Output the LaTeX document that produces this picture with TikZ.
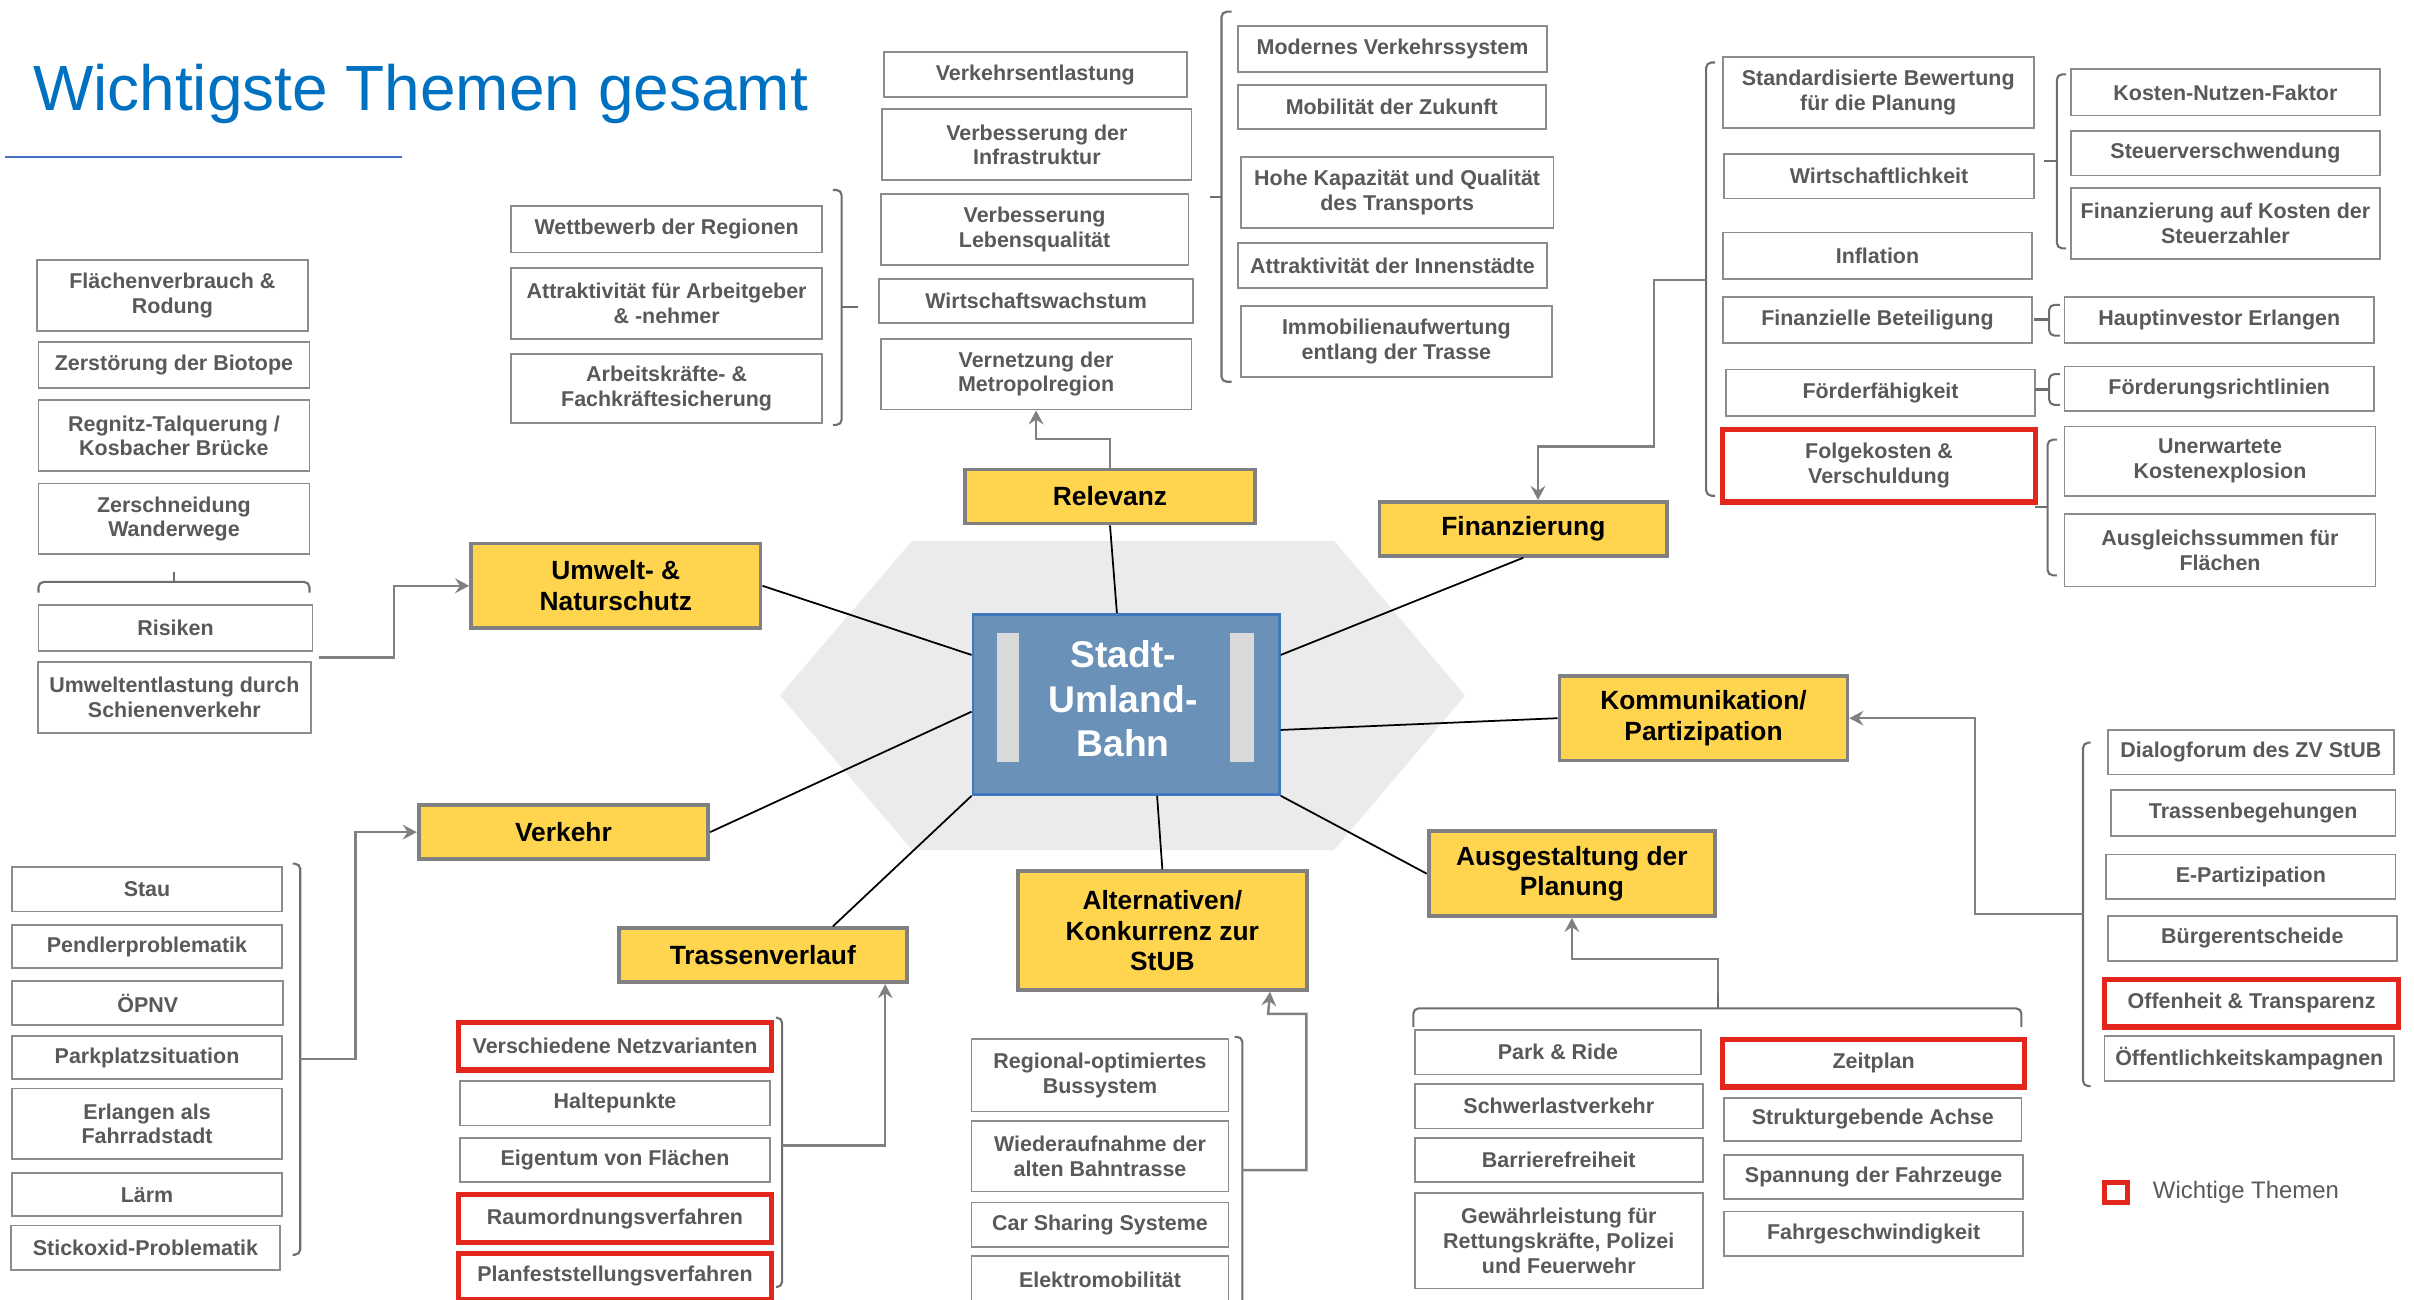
\documentclass[tikz,border=0pt]{standalone}
\usepackage{fontspec}
\setmainfont{Liberation Sans}
\usetikzlibrary{arrows.meta,calc}

\definecolor{boxgray}{HTML}{8C8C8C}
\definecolor{txtgray}{HTML}{595959}
\definecolor{hired}{HTML}{E3261C}
\definecolor{yfill}{HTML}{FFD54F}
\definecolor{ygray}{HTML}{808080}
\definecolor{conngray}{HTML}{808080}
\definecolor{brkgray}{HTML}{6E6E6E}
\definecolor{hexgray}{HTML}{EBEBEB}
\definecolor{ctrfill}{HTML}{6A92B8}
\definecolor{ctrdraw}{HTML}{3F78BF}
\definecolor{barfill}{HTML}{D9D9D9}
\definecolor{titleblue}{HTML}{0070C0}
\definecolor{lineblue}{HTML}{4472C4}

\newcommand\unitlen{0.015395cm}
% box from its two corners: style, name, x1, y1, x2, y2, text
\newcommand\mkbox[7]{\node[#1,
  minimum width={(#5-#3)*\unitlen}, minimum height={(#6-#4)*\unitlen}]
  (#2) at ({(#3+#5)/2},{(#4+#6)/2}) {#7};}

\tikzset{
  wbox/.style={draw=boxgray, line width=0.5pt, fill=white, text=txtgray,
    font=\bfseries\fontsize{6.1}{7}\selectfont, align=center, inner sep=0pt},
  rbox/.style={wbox, draw=hired, line width=1.5pt},
  ybox/.style={draw=ygray, line width=1.1pt, fill=yfill, text=black,
    font=\bfseries\fontsize{7.5}{8.7}\selectfont, align=center, inner sep=0pt},
  spoke/.style={black, line width=0.5pt},
  conn/.style={draw=conngray, line width=0.7pt},
  arr/.style={conn, -{Stealth[length=4pt,width=4.2pt,inset=1.4pt]}},
  brk/.style={draw=brkgray, line width=0.6pt, rounded corners=1.5pt},
}

\begin{document}
\begin{tikzpicture}[x=\unitlen, y=-\unitlen]
\path[use as bounding box] (0,0) rectangle (1568,844);
\clip (0,0) rectangle (1568,844);

% title
\node[anchor=base west, inner sep=0pt, text=titleblue,
  font=\fontsize{18.2}{20}\selectfont] (title) at (21,72) {Wichtigste Themen gesamt};
\draw[lineblue, line width=0.6pt] (3.5,102) -- (261,102);

% central hexagon
\fill[hexgray] (592.4,351.3) -- (866.6,351.3) -- (951.6,451.7) -- (866.6,552)
  -- (592.4,552) -- (506.6,451.7) -- cycle;

% central node
\mkbox{fill=ctrfill, draw=ctrdraw, line width=0.8pt, inner sep=0pt}{ctr}{632}{399}{831}{516}{}
\fill[barfill] (647.5,411) rectangle (662,495);
\fill[barfill] (799,411) rectangle (814.5,495);
\node[text=white, align=center, inner sep=0pt, font=\bfseries\fontsize{10.6}{12.7}\selectfont]
  (ctrlbl) at (729.5,454) {Stadt-\\Umland-\\Bahn};

% main topics
\mkbox{ybox}{uw}{306}{353}{494}{408}{Umwelt- \&\\Naturschutz}
\mkbox{ybox}{rel}{627}{305}{815}{340}{Relevanz}
\mkbox{ybox}{fin}{896}{326}{1083}{361}{Finanzierung}
\mkbox{ybox}{km}{1013}{439}{1200}{494}{Kommunikation/\\Partizipation}
\mkbox{ybox}{vk}{272}{523}{460}{558}{Verkehr}
\mkbox{ybox}{tv}{402}{603}{589}{638}{Trassenverlauf}
\mkbox{ybox}{alt}{661}{566}{849}{643}{Alternativen/\\Konkurrenz zur\\StUB}
\mkbox{ybox}{ag}{928}{540}{1114}{595}{Ausgestaltung der\\Planung}

% spokes from the centre
\draw[spoke] (uw.east) -- ($(ctr.north west)!0.23!(ctr.south west)$);
\draw[spoke] (rel.south) -- ($(ctr.north west)!0.47!(ctr.north east)$);
\draw[spoke] (fin.south) -- ($(ctr.north east)!0.23!(ctr.south east)$);
\draw[spoke] ($(ctr.north east)!0.64!(ctr.south east)$) -- (km.west);
\draw[spoke] (vk.east) -- ($(ctr.north west)!0.54!(ctr.south west)$);
\draw[spoke] ($(tv.north west)!0.74!(tv.north east)$) -- (ctr.south west);
\draw[spoke] ($(ctr.south west)!0.6!(ctr.south east)$) -- (alt.north);
\draw[spoke] (ctr.south east) -- (ag.west);

% Umwelt- & Naturschutz
\mkbox{wbox}{u1}{24}{169}{200}{215}{Flächenverbrauch \&\\Rodung}
\mkbox{wbox}{u2}{25}{222}{201}{252}{Zerstörung der Biotope}
\mkbox{wbox}{u3}{25}{260}{201}{306}{Regnitz-Talquerung /\\Kosbacher Brücke}
\mkbox{wbox}{u4}{25}{314}{201}{360}{Zerschneidung\\Wanderwege}
\mkbox{wbox}{u5}{25}{393}{203}{423}{Risiken}
\mkbox{wbox}{u6}{24.5}{430}{202}{476}{Umweltentlastung durch\\Schienenverkehr}
\draw[brk] (25,385) |- (201,378) -- (201,385);
\draw[brk] (113,378) -- (113,371.5);
\coordinate (uwsrc) at (207,427);
\draw[arr] (uwsrc) -| (256,380.5) -- (uw.west);

% Relevanz
\mkbox{wbox}{w1}{332}{134}{534}{164}{Wettbewerb der Regionen}
\mkbox{wbox}{w2}{332}{174}{534}{220}{Attraktivität für Arbeitgeber\\\& -nehmer}
\mkbox{wbox}{w3}{332}{230}{534}{275}{Arbeitskräfte- \&\\Fachkräftesicherung}
\draw[brk] (541,123.4) -| (546.7,276) -- (541,276);
\draw[brk] (546.7,199.2) -- (557,199.2);

\mkbox{wbox}{m1}{574}{34}{771}{63}{Verkehrsentlastung}
\mkbox{wbox}{m2}{573}{71}{774}{117}{Verbesserung der\\Infrastruktur}
\mkbox{wbox}{m3}{572}{126}{772}{172}{Verbesserung\\Lebensqualität}
\mkbox{wbox}{m4}{571}{181}{775}{210}{Wirtschaftswachstum}
\mkbox{wbox}{m5}{572}{220}{774}{266}{Vernetzung der\\Metropolregion}
\draw[arr] (rel.north) |- (673,285) -- (m5.south);

\mkbox{wbox}{r1}{804}{17}{1005}{47}{Modernes Verkehrssystem}
\mkbox{wbox}{r2}{804}{55}{1004}{84}{Mobilität der Zukunft}
\mkbox{wbox}{r3}{806}{102}{1009}{148}{Hohe Kapazität und Qualität\\des Transports}
\mkbox{wbox}{r4}{804}{158}{1005}{187}{Attraktivität der Innenstädte}
\mkbox{wbox}{r5}{806}{199}{1008}{245}{Immobilienaufwertung\\entlang der Trasse}
\draw[brk] (800,7.6) -| (793.4,248) -- (800,248);
\draw[brk] (793.4,127.8) -- (785.8,127.8);

% Finanzierung
\mkbox{wbox}{f1}{1119}{37}{1321}{83}{Standardisierte Bewertung\\für die Planung}
\mkbox{wbox}{f2}{1120}{100}{1321}{129}{Wirtschaftlichkeit}
\mkbox{wbox}{f3}{1119}{151}{1320}{181}{Inflation}
\mkbox{wbox}{f4}{1119}{193}{1320}{223}{Finanzielle Beteiligung}
\mkbox{wbox}{f5}{1121}{240}{1322}{270}{Förderfähigkeit}
\mkbox{rbox}{f6}{1119}{279}{1322}{326}{Folgekosten \&\\Verschuldung}
\mkbox{wbox}{g1}{1345}{45}{1546}{75}{Kosten-Nutzen-Faktor}
\mkbox{wbox}{g2}{1345}{85}{1546}{114}{Steuerverschwendung}
\mkbox{wbox}{g3}{1345}{122}{1546}{168}{Finanzierung auf Kosten der\\Steuerzahler}
\mkbox{wbox}{g4}{1341}{193}{1542}{223}{Hauptinvestor Erlangen}
\mkbox{wbox}{g5}{1341}{238}{1542}{267}{Förderungsrichtlinien}
\mkbox{wbox}{g6}{1341}{277}{1543}{322}{Unerwartete\\Kostenexplosion}
\mkbox{wbox}{g7}{1341}{334}{1543}{381}{Ausgleichssummen für\\Flächen}
\draw[brk] (1114,40.6) -| (1108.2,322) -- (1114,322);
\draw[brk] (1342,48.3) -| (1336,161.3) -- (1342,161.3);
\draw[brk] (1336,104.8) -- (1327.7,104.8);
\draw[brk] (1338,198) -| (1331,218) -- (1338,218);
\draw[brk] (1331,207.5) -- (1321,207.5);
\draw[brk] (1338,243) -| (1331,263) -- (1338,263);
\draw[brk] (1331,253) -- (1322,253);
\draw[brk] (1336,285.6) -| (1330,373.7) -- (1336,373.7);
\draw[brk] (1330,329.5) -- (1322,329.5);
\coordinate (finsrc) at (1108.2,182);
\draw[arr] (finsrc) -| (1074.4,290) -| ($(fin.north)+(9.5,0)$);

% Kommunikation / Partizipation
\mkbox{wbox}{k1}{1369}{474}{1555}{503}{Dialogforum des ZV StUB}
\mkbox{wbox}{k2}{1371}{513}{1556}{543}{Trassenbegehungen}
\mkbox{wbox}{k3}{1368}{555}{1556}{584}{E-Partizipation}
\mkbox{wbox}{k4}{1369}{595}{1557}{624}{Bürgerentscheide}
\mkbox{rbox}{k5}{1367}{636}{1558}{667}{Offenheit \& Transparenz}
\mkbox{wbox}{k6}{1367}{673}{1555}{702}{Öffentlichkeitskampagnen}
\draw[brk] (1358,482.4) -| (1353,705.5) -- (1358,705.5);
\coordinate (kmsrc) at (1353,593.7);
\draw[arr] (kmsrc) -| (1283,466.5) -- (km.east);

% Ausgestaltung der Planung
\mkbox{wbox}{a1}{919}{669}{1105}{698}{Park \& Ride}
\mkbox{wbox}{a2}{919}{704}{1106}{733}{Schwerlastverkehr}
\mkbox{wbox}{a3}{919}{739}{1106}{768}{Barrierefreiheit}
\mkbox{wbox}{a4}{919}{775}{1106}{837}{Gewährleistung für\\Rettungskräfte, Polizei\\und Feuerwehr}
\mkbox{rbox}{a5}{1119}{675}{1315}{706}{Zeitplan}
\mkbox{wbox}{a6}{1120}{713}{1313}{741}{Strukturgebende Achse}
\mkbox{wbox}{a7}{1120}{750}{1314}{779}{Spannung der Fahrzeuge}
\mkbox{wbox}{a8}{1120}{787}{1314}{816}{Fahrgeschwindigkeit}
\draw[brk] (918,667) |- (1313,655) -- (1313,667);
\draw[brk] (1116,655) -- (1116,645);
\coordinate (agsrc) at (1116,645);
\draw[arr] (agsrc) |- (1021,623) -- (ag.south);

% Alternativen / Konkurrenz
\mkbox{wbox}{b1}{631}{675}{798}{722}{Regional-optimiertes\\Bussystem}
\mkbox{wbox}{b2}{631}{728}{798}{774}{Wiederaufnahme der\\alten Bahntrasse}
\mkbox{wbox}{b3}{631}{781}{798}{810}{Car Sharing Systeme}
\mkbox{wbox}{b4}{631}{816}{798}{847}{Elektromobilität}
\draw[brk] (802,673.5) -| (807,870);
\coordinate (altsrc) at (807,760);
\draw[arr] (altsrc) -- (848.5,760) |- (823.7,658.6) -- ($(alt.south east)+(-25.3,0)$);

% Trassenverlauf
\mkbox{rbox}{t1}{298}{664}{501}{695}{Verschiedene Netzvarianten}
\mkbox{wbox}{t2}{299}{702}{500}{731}{Haltepunkte}
\mkbox{wbox}{t3}{299}{739}{500}{768}{Eigentum von Flächen}
\mkbox{rbox}{t4}{298}{776}{501}{807}{Raumordnungsverfahren}
\mkbox{rbox}{t5}{298}{814}{501}{844}{Planfeststellungsverfahren}
\draw[brk] (504,661) -| (508,836) -- (504,836);
\coordinate (tvsrc) at (508,744);
\coordinate (tvx) at (575,744);
\draw[arr] (tvsrc) -- (tvx) -- (tvx |- tv.south);

% Verkehr
\mkbox{wbox}{v1}{8}{563}{183}{592}{Stau}
\mkbox{wbox}{v2}{8}{601}{183}{629}{Pendlerproblematik}
\mkbox{wbox}{v3}{8}{637}{184}{666}{ÖPNV}
\mkbox{wbox}{v4}{8}{673}{183}{701}{Parkplatzsituation}
\mkbox{wbox}{v5}{8}{707}{183}{753}{Erlangen als\\Fahrradstadt}
\mkbox{wbox}{v6}{8}{762}{183}{790}{Lärm}
\mkbox{wbox}{v7}{7}{796}{182}{825}{Stickoxid-Problematik}
\draw[brk] (190,561) -| (195,815) -- (190,815);
\coordinate (vksrc) at (195,688);
\draw[arr] (vksrc) -| (231,540.5) -- (vk.west);

% legend
\mkbox{draw=hired, line width=1.6pt, inner sep=0pt}{legbox}{1367}{768}{1382}{781}{}
\node[anchor=west, inner sep=0pt, text=txtgray, font=\fontsize{6.8}{8}\selectfont]
  (legtext) at (1398,774.5) {Wichtige Themen};
\end{tikzpicture}
\end{document}
